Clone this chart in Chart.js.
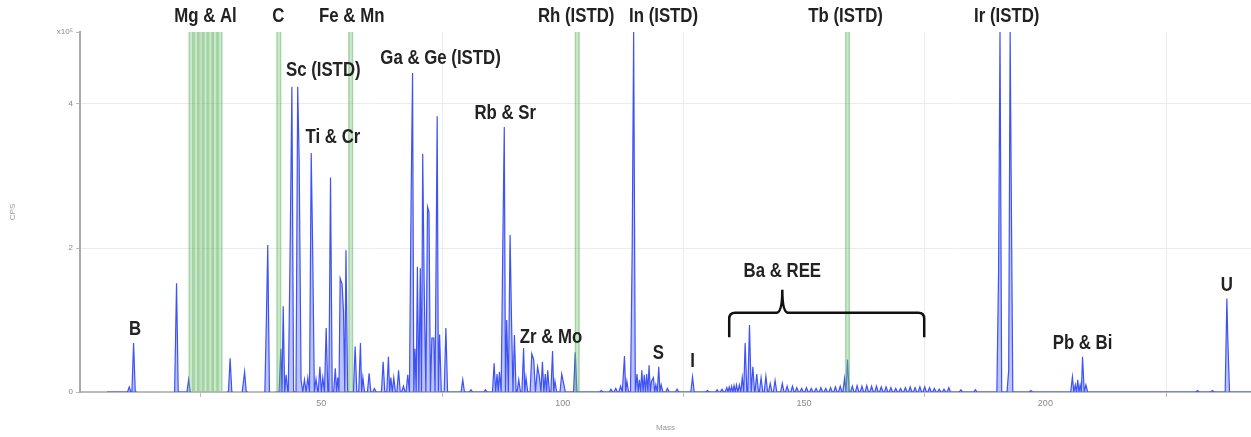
<!DOCTYPE html>
<html>
<head>
<meta charset="utf-8">
<script src="https://cdn.jsdelivr.net/npm/chart.js@4.4.1/dist/chart.umd.min.js"></script>
<style>
  body { margin: 0; background: #fff; }
  #wrap { width: 1251px; height: 437px; position: relative; }
</style>
</head>
<body>
<div id="wrap"><canvas id="spectrum"></canvas></div>
<script>
// peak masses (amu) and heights (x10^5 CPS)
const peakMass = [10.2, 11.1,
  20.0, 22.5,
  31.1, 34.1, 38.6, 38.9,
  41.6, 42.1, 42.7, 43.5, 43.9, 45.1, 45.4, 45.8, 46.5, 47.2, 47.9, 48.2, 48.9, 49.7, 50.3,
  51.0, 51.9, 52.9, 53.4, 53.9, 54.3, 54.6, 55.1, 57.0, 58.1, 58.6, 59.9, 61.0,
  62.8, 63.9, 64.4, 65.0, 66.0, 67.0, 67.9, 68.6, 68.9, 69.4, 69.9, 70.5, 71.0, 71.3,
  72.0, 72.3, 72.9, 73.3, 73.8, 74.0, 74.5, 75.8, 79.3, 81.0, 84.0,
  85.8, 86.4, 86.9, 87.6, 87.9, 88.4, 89.1, 89.4, 90.0, 90.9, 91.9, 92.4, 93.6, 94.0,
  94.8, 95.2, 95.8, 96.4, 96.9, 97.9, 98.4, 99.8, 100.2, 102.6,
  108.0, 110.0, 111.0, 112.0, 112.8, 113.3, 114.4, 114.7, 115.4, 115.9, 116.4, 116.9,
  117.4, 117.9, 118.4, 118.8, 119.3, 119.9, 120.4, 121.7, 123.7, 126.9,
  130.0, 132.0, 133.0, 134.0, 134.5, 135.0, 135.5, 136.0, 136.6, 137.2, 137.8, 138.7,
  139.4, 140.2, 141.1, 142.1, 143.0, 144.0, 145.5, 146.5, 147.6, 148.5, 149.5, 150.5,
  151.5, 152.5, 153.5, 154.5, 155.5, 156.5, 157.5, 158.4, 159.0,
  160, 161, 162, 163, 164, 165, 166, 167, 168, 169, 170, 171, 172, 173, 174, 175,
  176, 177, 178, 179, 180, 182.5, 185.5,
  190.3, 190.6, 192.4, 192.7, 192.9, 197.0,
  205.6, 206.2, 206.7, 207.2, 207.7, 208.4,
  231.5, 234.6, 237.6, 237.8];
const peakCps = [0.07, 0.68,
  1.51, 0.17,
  0.47, 0.28, 0.97, 2.04,
  0.60, 1.19, 0.24, 1.80, 4.24, 4.24, 3.25, 0.17, 0.17, 0.20, 3.32, 2.00, 0.18, 0.35, 0.20,
  0.89, 2.98, 0.33, 0.20, 1.58, 1.50, 1.10, 1.97, 0.63, 0.68, 0.20, 0.26, 0.05,
  0.42, 0.49, 0.20, 0.20, 0.30, 0.08, 0.24, 2.70, 4.43, 0.60, 1.74, 1.72, 3.31, 1.50,
  2.57, 2.50, 0.75, 0.75, 2.07, 3.83, 0.80, 0.89, 0.17, 0.03, 0.03,
  0.40, 0.25, 0.28, 2.07, 3.68, 1.00, 2.18, 1.00, 0.79, 0.17, 0.61, 0.20, 0.53, 0.45,
  0.35, 0.20, 0.42, 0.25, 0.30, 0.57, 0.15, 0.25, 0.12, 0.55,
  0.02, 0.04, 0.05, 0.08, 0.50, 0.15, 2.00, 5.00, 0.25, 0.17, 0.30, 0.24,
  0.25, 0.37, 0.15, 0.20, 0.10, 0.35, 0.10, 0.05, 0.04, 0.21,
  0.02, 0.03, 0.04, 0.06, 0.07, 0.08, 0.09, 0.10, 0.10, 0.20, 0.68, 0.93,
  0.35, 0.25, 0.20, 0.22, 0.12, 0.16, 0.12, 0.08, 0.08, 0.06, 0.05, 0.06,
  0.05, 0.05, 0.06, 0.05, 0.06, 0.07, 0.08, 0.19, 0.45,
  0.08, 0.09, 0.08, 0.09, 0.08, 0.08, 0.07, 0.07, 0.06, 0.05, 0.05, 0.06, 0.07, 0.06, 0.07, 0.07,
  0.06, 0.05, 0.04, 0.04, 0.06, 0.03, 0.03,
  1.65, 5.00, 0.30, 5.00, 3.10, 0.02,
  0.21, 0.10, 0.17, 0.10, 0.49, 0.10,
  0.02, 0.02, 1.30, 0.72];

// mass ranges that were actually scanned
const scanStart = [5.6, 19.6, 30.4, 33.6, 38.3, 40.5];
const scanEnd   = [11.8, 22.7, 31.7, 34.8, 39.4, 242.6];

// masses skipped by the method (green bands)
const skippedMass = [23, 24, 25, 26, 27, 28, 29, 41.2, 56.1, 103.0, 159.0];

// element labels: text, mass, CPS (x10^5) where they sit
const labelText = ['Mg & Al', 'C', 'Fe & Mn', 'Rh (ISTD)', 'In (ISTD)', 'Tb (ISTD)', 'Ir (ISTD)',
  'Sc (ISTD)', 'Ti & Cr', 'Ga & Ge (ISTD)', 'Rb & Sr', 'Zr & Mo', 'S', 'I', 'Ba & REE', 'Pb & Bi', 'U', 'B'];
const labelMass = [26.0, 41.1, 56.3, 102.8, 120.9, 158.6, 192.0,
  50.4, 52.4, 74.7, 88.1, 97.6, 119.8, 126.9, 145.5, 207.7, 237.6, 11.4];
const labelCps = [5.21, 5.21, 5.21, 5.21, 5.21, 5.21, 5.21,
  4.47, 3.54, 4.63, 3.87, 0.76, 0.54, 0.42, 1.67, 0.68, 1.48, 0.87];

// curly bracket under "Ba & REE"
const braceMass = [134.5, 145.5, 174.9];   // left end, tip, right end
const braceCps = [0.76, 1.10, 1.42];       // end bottoms, bar level, tip top

const HW = 0.35;

function buildSpectrum() {
  const pts = [];
  scanStart.forEach((a, s) => {
    const b = scanEnd[s];
    pts.push({x: a, y: 0});
    let prev = null;
    peakMass.forEach((m, i) => {
      if (m < a || m > b) return;
      const gap = prev === null ? null : m - prev;
      if (prev === null) {
        pts.push({x: m - HW, y: 0});
      } else if (gap > 2 * HW) {
        pts.push({x: prev + HW, y: 0});
        pts.push({x: m - HW, y: 0});
      } else if (gap >= 0.45) {
        pts.push({x: (prev + m) / 2, y: 0});   // separate spikes
      }                                          // closer: shoulder
      pts.push({x: m, y: peakCps[i]});
      prev = m;
    });
    if (prev !== null) pts.push({x: prev + HW, y: 0});
    pts.push({x: b, y: 0});
    pts.push({x: b, y: null});
  });
  return pts;
}

const labelPlugin = {
  id: 'peakLabels',
  afterDraw(chart) {
    const {ctx, scales: {x, y}} = chart;
    ctx.save();
    ctx.fillStyle = '#222';
    ctx.font = 'bold 20px "Liberation Sans", Arial, sans-serif';
    ctx.textAlign = 'center';
    ctx.textBaseline = 'middle';
    labelText.forEach((t, i) => {
      ctx.save();
      ctx.translate(x.getPixelForValue(labelMass[i]), y.getPixelForValue(labelCps[i]));
      ctx.scale(0.84, 1);   // condensed look
      ctx.fillText(t, 0, 0);
      ctx.restore();
    });
    // brace
    const x0 = x.getPixelForValue(braceMass[0]);
    const xm = x.getPixelForValue(braceMass[1]);
    const x1 = x.getPixelForValue(braceMass[2]);
    const yEnd = y.getPixelForValue(braceCps[0]);
    const yBar = y.getPixelForValue(braceCps[1]);
    const yTip = y.getPixelForValue(braceCps[2]);
    const r = 6;
    ctx.strokeStyle = '#111';
    ctx.lineWidth = 2.5;
    ctx.beginPath();
    ctx.moveTo(x0, yEnd);
    ctx.lineTo(x0, yBar + r);
    ctx.quadraticCurveTo(x0, yBar, x0 + r, yBar);
    ctx.lineTo(xm - r, yBar);
    ctx.quadraticCurveTo(xm, yBar, xm, yTip);
    ctx.quadraticCurveTo(xm, yBar, xm + r, yBar);
    ctx.lineTo(x1 - r, yBar);
    ctx.quadraticCurveTo(x1, yBar, x1, yBar + r);
    ctx.lineTo(x1, yEnd);
    ctx.stroke();
    ctx.restore();
  }
};

const ctx = document.getElementById('spectrum').getContext('2d');
const chart = new Chart(ctx, {
  type: 'line',
  data: {
    datasets: [
      {
        type: 'bar',
        label: 'Skipped',
        data: skippedMass.map(m => ({x: m, y: 5})),
        backgroundColor: 'rgba(120,195,120,0.38)',
        borderColor: 'rgba(80,170,80,0.45)',
        borderWidth: {left: 1, right: 1, top: 0, bottom: 0},
        borderSkipped: false,
        barPercentage: 1,
        categoryPercentage: 1,
        order: 0
      },
      {
        label: 'Spectrum',
        data: buildSpectrum(),
        borderColor: '#3f52f4',
        borderWidth: 1.2,
        backgroundColor: 'rgba(80,100,255,0.38)',
        fill: 'origin',
        pointRadius: 0,
        tension: 0,
        order: 1
      }
    ]
  },
  options: {
    responsive: true,
    maintainAspectRatio: false,
    animation: false,
    layout: { padding: { top: 32, right: 0, left: 0, bottom: 0 } },
    plugins: { legend: { display: false }, tooltip: { enabled: false } },
    scales: {
      x: {
        type: 'linear',
        min: 0,
        max: 242.6,
        offset: false,
        afterBuildTicks: s => { s.ticks = [50, 100, 150, 200].map(v => ({value: v})); },
        afterFit: s => { s.height = 45; },
        grid: { color: '#ececec', lineWidth: 1, tickLength: 5, tickColor: '#bbb' },
        border: { color: '#bbb', width: 2 },
        ticks: { color: '#888', font: { size: 9 }, padding: 1, maxRotation: 0 },
        title: { display: true, text: 'Mass', color: '#999', font: { size: 8 }, padding: { top: 14 } }
      },
      y: {
        min: 0,
        max: 5,
        afterBuildTicks: s => { s.ticks = [0, 2, 4, 5].map(v => ({value: v})); },
        afterFit: s => { s.width = 80; },
        grid: {
          color: c => (c.tick && (c.tick.value === 2 || c.tick.value === 4)) ? '#ececec' : 'rgba(0,0,0,0)',
          tickLength: 4,
          tickColor: '#bbb'
        },
        border: { color: '#aaa', width: 2 },
        ticks: {
          color: '#888',
          font: { size: 8 },
          padding: 3,
          callback: v => v === 5 ? 'x10⁵' : v
        },
        title: { display: true, text: 'CPS', color: '#999', font: { size: 8 }, padding: { top: 8, bottom: 44 } }
      }
    }
  },
  plugins: [labelPlugin]
});
</script>
</body>
</html>
